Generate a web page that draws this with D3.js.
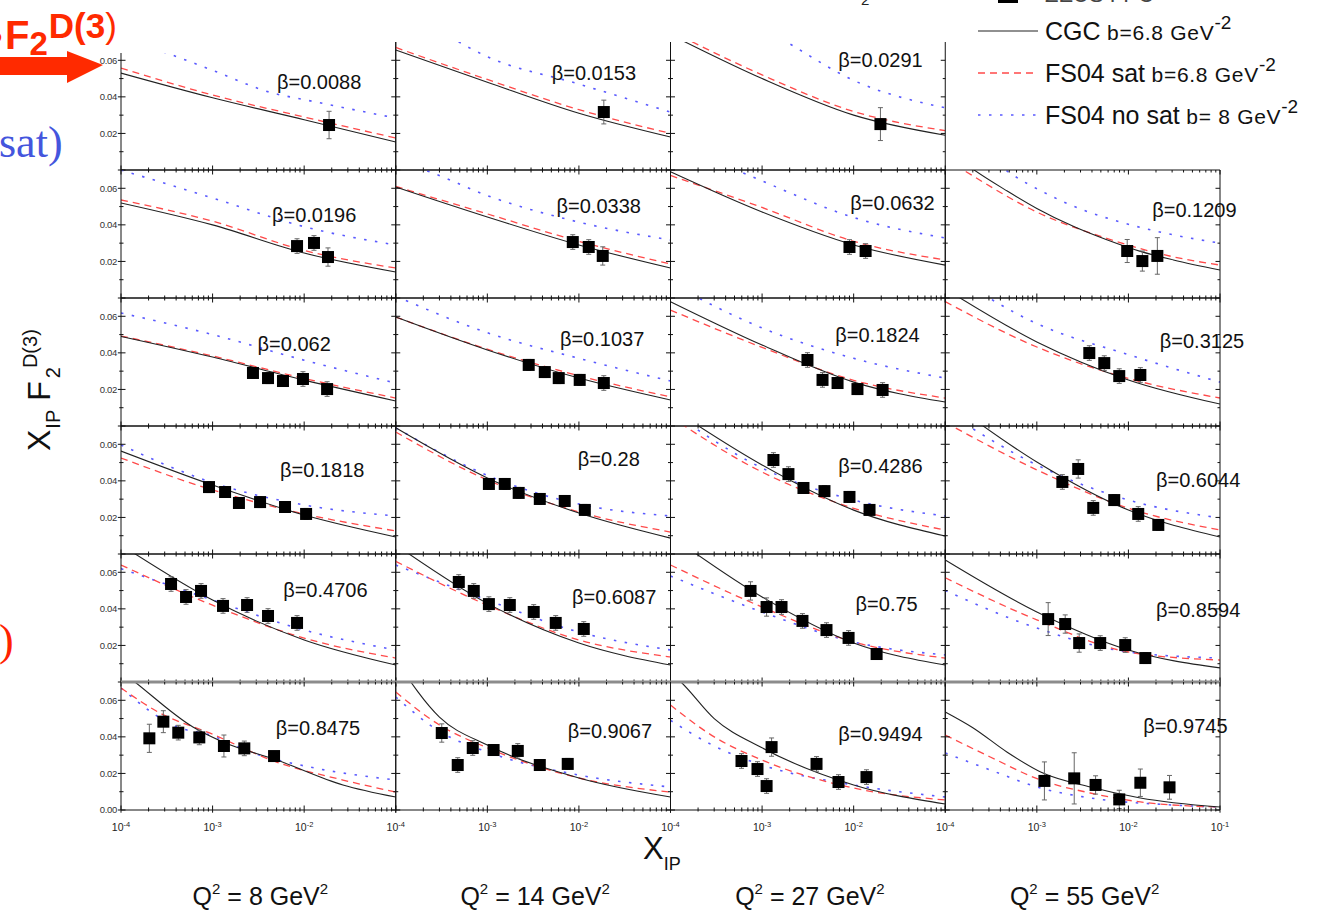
<!DOCTYPE html>
<html><head><meta charset="utf-8">
<script src="https://cdn.jsdelivr.net/npm/d3@7"></script>
<style>
html,body{margin:0;padding:0;background:#fff;}
svg{display:block;font-family:"Liberation Sans",Arial,Helvetica,sans-serif;}
</style></head><body>
<svg id="chart" width="1325" height="917"></svg>
<script>
// ---- panel labels (rows = beta bins, columns = Q^2) ----
const q2Values = ["8", "14", "27", "55"];
const betaLabels = [
  "0.0088", "0.0153", "0.0291", null,
  "0.0196", "0.0338", "0.0632", "0.1209",
  "0.062", "0.1037", "0.1824", "0.3125",
  "0.1818", "0.28", "0.4286", "0.6044",
  "0.4706", "0.6087", "0.75", "0.8594",
  "0.8475", "0.9067", "0.9494", "0.9745"
];
// anchor of each beta label, in (x_IP, value) units
const betaLabelAt = [
  [5.05e-3, 0.0443], [5.05e-3, 0.0492], [6.8e-3, 0.0563], null,
  [4.45e-3, 0.0416], [5.7e-3, 0.0465], [9.2e-3, 0.0481], [1.82e-2, 0.0443],
  [3.1e-3, 0.0410], [6.2e-3, 0.0437], [6.3e-3, 0.0459], [2.2e-2, 0.0426],
  [5.45e-3, 0.0421], [9.7e-3, 0.0481], [6.8e-3, 0.0443], [2.0e-2, 0.0366],
  [5.9e-3, 0.0465], [8.4e-3, 0.0426], [1.05e-2, 0.0388], [2.0e-2, 0.0355],
  [4.9e-3, 0.0410], [7.55e-3, 0.0394], [6.8e-3, 0.0377], [1.45e-2, 0.0421]
];

// ---- ZEUS FPC measurements: x_IP, x_IP F2^D(3), error ----
const zeusX = [
  [0.0187], [0.0187], [0.0196], null,
  [0.00836, 0.0128, 0.0182], [0.00857, 0.0128, 0.0182], [0.0090, 0.0135], [0.0097, 0.0142, 0.0207],
  [0.00276, 0.00403, 0.00587, 0.0097, 0.0178], [0.00283, 0.00424, 0.00602, 0.0102, 0.0187],
  [0.00313, 0.00457, 0.00667, 0.0110, 0.0207], [0.00374, 0.00545, 0.00794, 0.0135],
  [0.000914, 0.00137, 0.00194, 0.0033, 0.00618, 0.0105], [0.00104, 0.00155, 0.0022, 0.00374, 0.0070, 0.0116],
  [0.00133, 0.00194, 0.00283, 0.0048, 0.0090, 0.0149], [0.0019, 0.00283, 0.00413, 0.0070, 0.0128, 0.0212],
  [0.000352, 0.000513, 0.000748, 0.0013, 0.00238, 0.00403, 0.00836],
  [0.000488, 0.000711, 0.00104, 0.00176, 0.00321, 0.00558, 0.0113],
  [0.000748, 0.00112, 0.00163, 0.00276, 0.00505, 0.0088, 0.0178],
  [0.00133, 0.00204, 0.0029, 0.00492, 0.00923, 0.0153],
  [0.000204, 0.00029, 0.000422, 0.000716, 0.00133, 0.00222, 0.00469],
  [0.000318, 0.000475, 0.000693, 0.00117, 0.00215, 0.00374, 0.00755],
  [0.000596, 0.000891, 0.00112, 0.00127, 0.00393, 0.00683, 0.0138],
  [0.00121, 0.00256, 0.00438, 0.00794, 0.0135, 0.0281]
];
const zeusY = [
  [0.0246], [0.0317], [0.0251], null,
  [0.0284, 0.0301, 0.0224], [0.0306, 0.0279, 0.0230], [0.0279, 0.0257], [0.0257, 0.0202, 0.0230],
  [0.0290, 0.0262, 0.0246, 0.0257, 0.0202], [0.0334, 0.0295, 0.0262, 0.0252, 0.0235],
  [0.0361, 0.0252, 0.0235, 0.0202, 0.0197], [0.0399, 0.0344, 0.0273, 0.0279],
  [0.0366, 0.0339, 0.0279, 0.0284, 0.0257, 0.0219], [0.0383, 0.0383, 0.0334, 0.0301, 0.0290, 0.0241],
  [0.0514, 0.0437, 0.0361, 0.0344, 0.0312, 0.0241], [0.0394, 0.0465, 0.0252, 0.0295, 0.0219, 0.0159],
  [0.0536, 0.0465, 0.0498, 0.0416, 0.0421, 0.0361, 0.0323],
  [0.0547, 0.0498, 0.0426, 0.0421, 0.0383, 0.0323, 0.0290],
  [0.0498, 0.0410, 0.0410, 0.0334, 0.0284, 0.0241, 0.0153],
  [0.0344, 0.0317, 0.0213, 0.0213, 0.0202, 0.0131],
  [0.0392, 0.0483, 0.0423, 0.0397, 0.0350, 0.0337, 0.0295],
  [0.0421, 0.0246, 0.0339, 0.0328, 0.0323, 0.0246, 0.0252],
  [0.0268, 0.0224, 0.0131, 0.0344, 0.0252, 0.0153, 0.0180],
  [0.0159, 0.0173, 0.0137, 0.0058, 0.0149, 0.0124]
];
const zeusErr = [
  [0.0075], [0.0065], [0.009], null,
  [0.004, 0.004, 0.005], [0.004, 0.004, 0.005], [0.004, 0.004], [0.0063, 0.0055, 0.010],
  [0.003, 0.003, 0.003, 0.004, 0.004], [0.003, 0.003, 0.003, 0.003, 0.004],
  [0.004, 0.004, 0.003, 0.003, 0.004], [0.004, 0.004, 0.004, 0.004],
  [0.003, 0.003, 0.003, 0.003, 0.003, 0.003], [0.003, 0.003, 0.003, 0.003, 0.003, 0.003],
  [0.004, 0.004, 0.003, 0.003, 0.003, 0.003], [0.004, 0.005, 0.004, 0.003, 0.004, 0.003],
  [0.004, 0.004, 0.004, 0.004, 0.004, 0.004, 0.004],
  [0.004, 0.004, 0.004, 0.004, 0.004, 0.004, 0.004],
  [0.005, 0.005, 0.004, 0.004, 0.004, 0.004, 0.003],
  [0.009, 0.005, 0.005, 0.004, 0.004, 0.003],
  [0.0077, 0.006, 0.004, 0.004, 0.006, 0.004, 0.002],
  [0.005, 0.004, 0.004, 0.003, 0.004, 0.003, 0.003],
  [0.004, 0.004, 0.004, 0.005, 0.004, 0.004, 0.004],
  [0.0104, 0.014, 0.005, 0.005, 0.0075, 0.0065]
];

// ---- model curves: [x_IP, x_IP F2^D(3)] ----
const cgcCurves = [
  [[1e-4,0.053],[1e-3,0.0395],[1e-2,0.0275],[1e-1,0.0153]],
  [[1e-4,0.0656],[1e-3,0.048],[1e-2,0.031],[1e-1,0.018]],
  [[1e-4,0.074],[1e-3,0.050],[1e-2,0.030],[1e-1,0.019]],
  null,
  [[1e-4,0.052],[1e-3,0.040],[1e-2,0.0246],[1e-1,0.0142]],
  [[1e-4,0.0607],[1e-3,0.0443],[1e-2,0.029],[1e-1,0.0164]],
  [[1e-4,0.069],[1e-3,0.047],[1e-2,0.029],[1e-1,0.018]],
  [[1e-4,0.082],[2e-4,0.0705],[4.75e-4,0.0585],[1e-3,0.049],[2.5e-3,0.0392],[5.9e-3,0.0317],[1.35e-2,0.0255],[3.1e-2,0.0208],[1e-1,0.0153]],
  [[1e-4,0.049],[1e-3,0.0377],[1e-2,0.0251],[1e-1,0.0137]],
  [[1e-4,0.0596],[1e-3,0.0416],[1e-2,0.0262],[1e-1,0.0142]],
  [[1e-4,0.068],[1e-3,0.0443],[1e-2,0.024],[1e-1,0.0131]],
  [[1e-4,0.075],[1e-3,0.046],[1e-2,0.0252],[1e-1,0.012]],
  [[1e-4,0.0563],[1e-3,0.0377],[1e-2,0.0213],[1e-1,0.0093]],
  [[1e-4,0.069],[1e-3,0.0416],[1e-2,0.0224],[1e-1,0.0087]],
  [[1e-4,0.080],[1e-3,0.0487],[1e-2,0.024],[1e-1,0.0098]],
  [[1e-4,0.085],[1e-3,0.0503],[1e-2,0.024],[1e-1,0.0093]],
  [[1e-4,0.075],[1e-3,0.0448],[1e-2,0.023],[1e-1,0.0093]],
  [[1e-4,0.075],[1e-3,0.043],[1e-2,0.0213],[1e-1,0.0093]],
  [[1e-4,0.080],[1e-3,0.0465],[1e-2,0.0213],[1e-1,0.0093]],
  [[1e-4,0.0667],[1e-3,0.0383],[1e-2,0.0175],[1e-1,0.0077]],
  [[1e-4,0.076],[1.42e-4,0.070],[6.1e-4,0.0454],[1.3e-3,0.0372],[5.05e-3,0.0273],[2.65e-2,0.0137],[1e-1,0.0071]],
  [[1e-4,0.082],[3e-4,0.0508],[1e-3,0.0355],[1e-2,0.0175],[1e-1,0.0071]],
  [[1e-4,0.075],[1.3e-4,0.070],[3e-4,0.050],[1e-3,0.034],[1e-2,0.0137],[1e-1,0.0033]],
  [[1e-4,0.0536],[2e-4,0.045],[4.75e-4,0.0316],[1.1e-3,0.0208],[3.83e-3,0.0126],[1.35e-2,0.0066],[1e-1,0.0016]]
];
const satCurves = [
  [[1e-4,0.0557],[1e-3,0.041],[1e-2,0.029],[1e-1,0.0175]],
  [[1e-4,0.067],[1e-3,0.0495],[1e-2,0.033],[1e-1,0.020]],
  [[1e-4,0.076],[1e-3,0.052],[1e-2,0.032],[1e-1,0.0215]],
  null,
  [[1e-4,0.0536],[1e-3,0.042],[1e-2,0.026],[1e-1,0.0164]],
  [[1e-4,0.061],[1e-3,0.046],[1e-2,0.031],[1e-1,0.0186]],
  [[1e-4,0.067],[1e-3,0.0495],[1e-2,0.031],[1e-1,0.0208]],
  [[1e-4,0.076],[1.57e-4,0.070],[1e-3,0.047],[5.9e-3,0.0325],[3.1e-2,0.0225],[1e-1,0.018]],
  [[1e-4,0.0492],[1e-3,0.0383],[1e-2,0.026],[1e-1,0.0153]],
  [[1e-4,0.0596],[1e-3,0.042],[1e-2,0.0275],[1e-1,0.0159]],
  [[1e-4,0.0634],[1e-3,0.043],[1e-2,0.025],[1e-1,0.0153]],
  [[1e-4,0.068],[1e-3,0.0432],[1e-2,0.026],[1e-1,0.0153]],
  [[1e-4,0.0525],[1e-3,0.035],[1e-2,0.0219],[1e-1,0.0126]],
  [[1e-4,0.0667],[1e-3,0.0405],[1e-2,0.023],[1e-1,0.012]],
  [[1e-4,0.075],[1e-3,0.0448],[1e-2,0.025],[1e-1,0.0131]],
  [[1e-4,0.072],[1e-3,0.046],[1e-2,0.025],[1e-1,0.0131]],
  [[1e-4,0.064],[1e-3,0.042],[1e-2,0.024],[1e-1,0.0131]],
  [[1e-4,0.066],[1e-3,0.042],[1e-2,0.023],[1e-1,0.0137]],
  [[1e-4,0.064],[1e-3,0.041],[1e-2,0.0219],[1e-1,0.0131]],
  [[1e-4,0.057],[1e-3,0.034],[1e-2,0.0164],[1e-1,0.012]],
  [[1e-4,0.0667],[2.67e-4,0.053],[9.4e-4,0.042],[5e-3,0.0262],[2.65e-2,0.0164],[1e-1,0.0098]],
  [[1e-4,0.0645],[3e-4,0.0465],[1e-3,0.034],[1e-2,0.0175],[1e-1,0.0098]],
  [[1e-4,0.0574],[3e-4,0.040],[1e-3,0.0273],[1e-2,0.012],[1e-1,0.0055]],
  [[1e-4,0.041],[3.1e-4,0.029],[1.1e-3,0.0164],[3.83e-3,0.0093],[1.35e-2,0.0044],[1e-1,0.0016]]
];
const nosatCurves = [
  [[1e-4,0.071],[2.9e-4,0.0645],[1e-3,0.0545],[4.6e-3,0.042],[1e-2,0.0385],[1e-1,0.0284]],
  [[3e-4,0.076],[1e-3,0.062],[1e-2,0.047],[1e-1,0.0317]],
  [[1e-3,0.078],[2e-3,0.069],[1e-2,0.049],[1e-1,0.034]],
  null,
  [[1e-4,0.070],[1e-3,0.0547],[1e-2,0.039],[1e-1,0.029]],
  [[1e-4,0.075],[2.35e-4,0.069],[1e-3,0.056],[1e-2,0.0415],[1e-1,0.0317]],
  [[1e-4,0.082],[5.8e-4,0.069],[1e-3,0.064],[1e-2,0.044],[1e-1,0.0328]],
  [[3e-4,0.077],[5.1e-4,0.0683],[1.17e-3,0.058],[3.2e-3,0.0481],[8.1e-3,0.0416],[2.2e-2,0.0361],[1e-1,0.030]],
  [[1e-4,0.0618],[1e-3,0.050],[1e-2,0.036],[1e-1,0.0235]],
  [[1e-4,0.071],[1e-3,0.051],[1e-2,0.037],[1e-1,0.0246]],
  [[1e-4,0.078],[1e-3,0.0536],[1e-2,0.037],[1e-1,0.0262]],
  [[1e-4,0.085],[1e-3,0.056],[1e-2,0.039],[1e-1,0.024]],
  [[1e-4,0.0596],[1e-3,0.039],[1e-2,0.0268],[1e-1,0.0208]],
  [[1e-4,0.069],[1e-3,0.043],[1e-2,0.0273],[1e-1,0.0208]],
  [[1e-4,0.078],[1e-3,0.047],[1e-2,0.0295],[1e-1,0.0208]],
  [[1e-4,0.078],[1e-3,0.0487],[1e-2,0.0295],[1e-1,0.0197]],
  [[1e-4,0.062],[1e-3,0.0448],[1e-2,0.0284],[1e-1,0.0175]],
  [[1e-4,0.064],[1e-3,0.0448],[1e-2,0.0273],[1e-1,0.0175]],
  [[1e-4,0.058],[1e-3,0.0383],[1e-2,0.0219],[1e-1,0.0148]],
  [[1e-4,0.050],[1e-3,0.0295],[1e-2,0.0164],[1e-1,0.0131]],
  [[1e-4,0.0667],[4.1e-4,0.0454],[9.4e-4,0.041],[2.76e-3,0.0312],[1.15e-2,0.0235],[1e-1,0.0164]],
  [[1e-4,0.0618],[3e-4,0.043],[1e-3,0.0317],[1e-2,0.0191],[1e-1,0.0126]],
  [[1e-4,0.049],[3e-4,0.035],[1e-3,0.0246],[1e-2,0.0137],[1e-1,0.0071]],
  [[1e-4,0.0312],[3.1e-4,0.0219],[1.1e-3,0.012],[3.83e-3,0.0066],[3.1e-2,0.0027],[1e-1,0.0016]]
];

// ---- axis ticks ----
const xMajor = [1e-4, 1e-3, 1e-2, 1e-1];
const xExponents = ["-4", "-3", "-2", "-1"];
const yMajor = [0, 0.02, 0.04, 0.06];
const yMinor = [0.01, 0.03, 0.05];
const yTickText = ["0.00", "0.02", "0.04", "0.06"];

// ---- layout ----
const gridLeft = 121, gridTop = 42, panelW = 274.75, panelH = 128;
const nRows = 6, nCols = 4;
const svg = d3.select("#chart");

const x = d3.scaleLog().domain([1e-4, 1e-1]).range([0, panelW]);
const y = d3.scaleLinear().domain([0, 0.07]).range([panelH, 0]);
const xMinor = x.ticks().filter(v => !xMajor.some(m => Math.abs(v - m) / m < 1e-6));
const line = d3.line().x(d => x(d[0])).y(d => y(d[1])).curve(d3.curveMonotoneX);

const defs = svg.append("defs");
defs.append("clipPath").attr("id", "panel-clip")
  .append("rect").attr("x", 0).attr("y", 0).attr("width", panelW).attr("height", panelH);

betaLabels.forEach((beta, i) => {
  if (beta === null) return;
  const r = Math.floor(i / nCols), c = i % nCols;
  const g = svg.append("g")
    .attr("transform", `translate(${gridLeft + c * panelW},${gridTop + r * panelH})`);

  // model curves
  const curves = g.append("g").attr("clip-path", "url(#panel-clip)");
  curves.append("path").datum(nosatCurves[i]).attr("d", line)
    .attr("fill", "none").attr("stroke", "#5a5aff").attr("stroke-width", 1.6)
    .attr("stroke-dasharray", "2.5,8.5");
  curves.append("path").datum(satCurves[i]).attr("d", line)
    .attr("fill", "none").attr("stroke", "#ff4a4a").attr("stroke-width", 1.3)
    .attr("stroke-dasharray", "7,5");
  curves.append("path").datum(cgcCurves[i]).attr("d", line)
    .attr("fill", "none").attr("stroke", "#222").attr("stroke-width", 1.1);

  // measurements with error bars
  const pts = zeusX[i].map((xv, k) => ({x: xv, y: zeusY[i][k], e: zeusErr[i][k]}));
  const eb = g.append("g").attr("stroke", "#666").attr("stroke-width", 1);
  pts.forEach(p => {
    const px = x(p.x);
    eb.append("line").attr("x1", px).attr("x2", px).attr("y1", y(p.y - p.e)).attr("y2", y(p.y + p.e));
    eb.append("line").attr("x1", px - 2.5).attr("x2", px + 2.5).attr("y1", y(p.y - p.e)).attr("y2", y(p.y - p.e));
    eb.append("line").attr("x1", px - 2.5).attr("x2", px + 2.5).attr("y1", y(p.y + p.e)).attr("y2", y(p.y + p.e));
  });
  g.selectAll("rect.pt").data(pts).join("rect").attr("class", "pt")
    .attr("x", d => x(d.x) - 6).attr("y", d => y(d.y) - 6)
    .attr("width", 12).attr("height", 12).attr("fill", "#000");

  // beta label
  const la = betaLabelAt[i];
  const bt = g.append("text").attr("x", x(la[0])).attr("y", y(la[1]))
    .attr("font-size", 20).attr("fill", "#111");
  bt.append("tspan").text("β");
  bt.append("tspan").text("=" + beta);

  // frame
  const fr = g.append("g").attr("stroke", "#111").attr("stroke-width", 1).attr("fill", "none");
  fr.append("line").attr("x1", 0).attr("x2", 0).attr("y1", 0).attr("y2", panelH);
  fr.append("line").attr("x1", panelW).attr("x2", panelW).attr("y1", 0).attr("y2", panelH);
  fr.append("line").attr("x1", 0).attr("x2", panelW).attr("y1", panelH).attr("y2", panelH);
  if (r > 0) {
    fr.append("line").attr("x1", 0).attr("x2", panelW).attr("y1", 0).attr("y2", 0)
      .attr("stroke", r === nRows - 1 ? "#8c8c8c" : "#111")
      .attr("stroke-width", r === nRows - 1 ? 3 : 1);
  }
  // x ticks (bottom and top edges)
  [[xMajor, 4.5], [xMinor, 2.5]].forEach(([vals, len]) => {
    vals.forEach(v => {
      const px = x(v);
      fr.append("line").attr("x1", px).attr("x2", px)
        .attr("y1", panelH - len).attr("y2", panelH + (r === nRows - 1 ? len * 0.6 : 0));
      if (r > 0) fr.append("line").attr("x1", px).attr("x2", px).attr("y1", 0).attr("y2", len);
    });
  });
  // y ticks (left and right edges)
  [[yMajor, 4.5], [yMinor, 2.5]].forEach(([vals, len]) => {
    vals.forEach(v => {
      const py = y(v);
      fr.append("line").attr("x1", c === 0 ? -len * 0.7 : 0).attr("x2", len).attr("y1", py).attr("y2", py);
      fr.append("line").attr("x1", panelW - len).attr("x2", panelW).attr("y1", py).attr("y2", py);
    });
  });

  // y tick labels on the first column
  if (c === 0) {
    yMajor.forEach((v, k) => {
      if (v === 0 && r !== nRows - 1) return;
      g.append("text").attr("x", -4).attr("y", y(v)).attr("dy", "0.35em")
        .attr("text-anchor", "end").attr("font-size", 9.5).attr("fill", "#333")
        .attr("letter-spacing", -0.3).text(yTickText[k]);
    });
  }
  // x tick labels on the bottom row
  if (r === nRows - 1) {
    xMajor.forEach((v, k) => {
      if (k === 3 && c !== nCols - 1) return;
      const t = g.append("text").attr("x", x(v)).attr("y", panelH + 21)
        .attr("text-anchor", "middle").attr("font-size", 10.5).attr("fill", "#222");
      t.append("tspan").text("10");
      t.append("tspan").attr("font-size", 7.5).attr("dy", -4.5).text(xExponents[k]);
    });
  }
});

// Q^2 captions below each column
q2Values.forEach((q, c) => {
  const t = svg.append("text").attr("x", gridLeft + (c + 0.5) * panelW + 2).attr("y", 905)
    .attr("text-anchor", "middle").attr("font-size", 25).attr("fill", "#111");
  t.append("tspan").text("Q");
  t.append("tspan").attr("font-size", 15).attr("dy", -11).text("2");
  t.append("tspan").attr("dy", 11).text(" = " + q + " GeV");
  t.append("tspan").attr("font-size", 15).attr("dy", -11).text("2");
});

// axis titles
const xt = svg.append("text").attr("x", 643).attr("y", 859).attr("font-size", 31).attr("fill", "#111");
xt.append("tspan").text("X");
xt.append("tspan").attr("font-size", 18).attr("dy", 11).text("IP");

const yt = svg.append("text").attr("transform", "translate(50,451) rotate(-90)")
  .attr("font-size", 32).attr("fill", "#111");
yt.append("tspan").text("X");
yt.append("tspan").attr("font-size", 20).attr("dy", 10).attr("dx", 1).text("IP");
yt.append("tspan").attr("dy", -10).attr("dx", 9).text("F");
yt.append("tspan").attr("font-size", 20).attr("dy", 10).attr("dx", 3).text("2");
yt.append("tspan").attr("font-size", 20).attr("dy", -23).attr("dx", -1).text("D(3)");

// legend
const lg = svg.append("g");
lg.append("rect").attr("x", 998).attr("y", -13).attr("width", 20).attr("height", 16).attr("fill", "#000");
lg.append("text").attr("x", 1045).attr("y", 2).attr("font-size", 22).attr("fill", "#444").text("ZEUS FPC");
const legendRows = [
  {main: "CGC", sub: " b=6.8 GeV", y: 40, stroke: "#222", dash: null, w: 1.1},
  {main: "FS04 sat", sub: " b=6.8 GeV", y: 82, stroke: "#ff4a4a", dash: "7,5", w: 1.3},
  {main: "FS04 no sat", sub: " b= 8 GeV", y: 124, stroke: "#5a5aff", dash: "2.5,8.5", w: 1.6}
];
legendRows.forEach(d => {
  lg.append("line").attr("x1", 978).attr("x2", 1038).attr("y1", d.y - 9).attr("y2", d.y - 9)
    .attr("stroke", d.stroke).attr("stroke-width", d.w).attr("stroke-dasharray", d.dash);
  const t = lg.append("text").attr("x", 1045).attr("y", d.y).attr("font-size", 25).attr("fill", "#111");
  t.append("tspan").text(d.main);
  t.append("tspan").attr("font-size", 21).attr("letter-spacing", 0.7).text(d.sub);
  t.append("tspan").attr("font-size", 19).attr("dy", -11).text("-2");
});
svg.append("text").attr("x", 861).attr("y", 5).attr("font-size", 15).attr("fill", "#222").text("2");

// slide overlay: cover strip, red arrow and annotation fragments
svg.append("rect").attr("x", 0).attr("y", 0).attr("width", 392).attr("height", 53).attr("fill", "#fff");
svg.append("polygon")
  .attr("points", [[0, 57], [67, 57], [67, 51], [103, 65], [67, 83], [67, 75], [0, 75]].join(" "))
  .attr("fill", "#ff2a00");
const ft = svg.append("text").attr("y", 49).attr("fill", "#ff2a00").attr("font-weight", "bold");
ft.append("tspan").attr("x", -14).attr("font-size", 24).text("P");
ft.append("tspan").attr("x", 5).attr("font-size", 40).text("F");
ft.append("tspan").attr("font-size", 33).attr("dy", 6).text("2");
ft.append("tspan").attr("font-size", 35).attr("dy", -17).attr("dx", 1).text("D(3");
ft.append("tspan").attr("font-size", 35).attr("font-weight", "normal").text(")");
svg.append("text").attr("x", -1).attr("y", 157).attr("font-family", "'Liberation Serif','Times New Roman',serif")
  .attr("font-size", 44).attr("fill", "#4455dd").text("sat)");
svg.append("text").attr("x", -1).attr("y", 655).attr("font-family", "'Liberation Serif','Times New Roman',serif")
  .attr("font-size", 44).attr("fill", "#ff2200").text(")");
</script></body></html>
